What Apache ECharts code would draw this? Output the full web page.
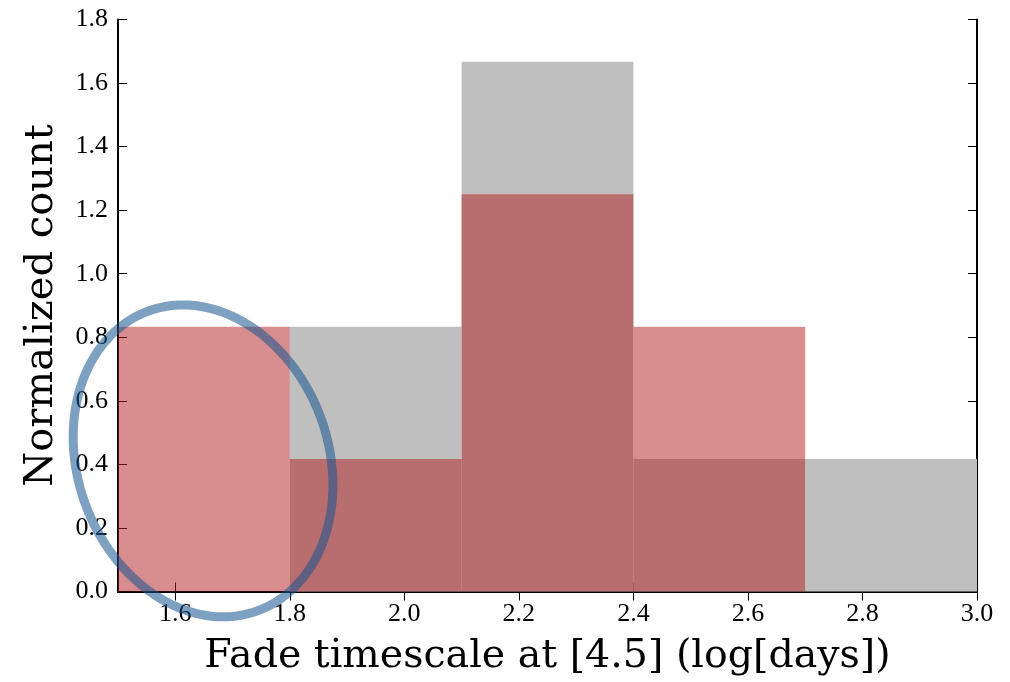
<!DOCTYPE html>
<html>
<head>
<meta charset="utf-8">
<script src="https://cdn.jsdelivr.net/npm/echarts@6/dist/echarts.min.js"></script>
<style>
  html, body { margin: 0; padding: 0; background: #ffffff; }
  #chart { width: 1010px; height: 682px; }
</style>
</head>
<body>
<div id="chart"></div>
<script>
// Histogram bin edges (log[days]) and normalized counts per bin
const binEdges = [1.5, 1.8, 2.1, 2.4, 2.7, 3.0];
const grayCounts = [0, 0.8333, 1.6667, 0.4167, 0.4167];
const redCounts = [0.8333, 0.4167, 1.25, 0.8333, 0];

// Tick positions and labels
const xTicks = [1.6, 1.8, 2.0, 2.2, 2.4, 2.6, 2.8, 3.0];
const yTicks = [0, 0.2, 0.4, 0.6, 0.8, 1.0, 1.2, 1.4, 1.6, 1.8];

// Hand-drawn highlight ring: centre in data units, semi-axes in data units, tilt in degrees
const ringCenter = [1.6485, 0.411];
const ringRadii = [0.219, 0.502];
const ringTilt = -20;

const TICK_FONT = '"Liberation Serif", "DejaVu Serif", serif';
const TITLE_FONT = '"DejaVu Serif", "Liberation Serif", serif';

function binData(counts) {
  const out = [];
  counts.forEach(function (c, i) {
    if (c > 0) out.push([binEdges[i], binEdges[i + 1], c]);
  });
  return out;
}

function barRenderer(fill) {
  return function (params, api) {
    const p0 = api.coord([api.value(0), api.value(2)]);
    const p1 = api.coord([api.value(1), 0]);
    return {
      type: 'rect',
      shape: { x: p0[0], y: p0[1], width: p1[0] - p0[0], height: p1[1] - p0[1] },
      style: { fill: fill }
    };
  };
}

function ringRenderer(params, api) {
  const c = api.coord([api.value(0), api.value(1)]);
  const r = api.size([api.value(2), api.value(3)]);
  const a = r[0], b = r[1];
  const phi = ringTilt * Math.PI / 180;
  const pts = [];
  const n = 180;
  for (let k = 0; k <= n; k++) {
    const t = 2 * Math.PI * k / n;
    const ex = a * Math.cos(t), ey = b * Math.sin(t);
    pts.push([
      c[0] + ex * Math.cos(phi) - ey * Math.sin(phi),
      c[1] + ex * Math.sin(phi) + ey * Math.cos(phi)
    ]);
  }
  return {
    type: 'polygon',
    shape: { points: pts },
    style: { fill: 'none', stroke: 'rgba(25,85,145,0.56)', lineWidth: 9 }
  };
}

const axisLine = { show: true, lineStyle: { color: '#000', width: 2 } };
const tickStyle = { color: '#000', width: 1 };

const chart = echarts.init(document.getElementById('chart'), null, { renderer: 'canvas' });
chart.setOption({
  animation: false,
  backgroundColor: '#ffffff',
  grid: { left: 118, right: 33, top: 19.5, bottom: 90.5, containLabel: false },
  xAxis: [
    {
      type: 'value', position: 'bottom', min: 1.5, max: 3.0,
      name: 'Fade timescale at [4.5] (log[days])',
      nameLocation: 'middle', nameGap: 45,
      nameTextStyle: { fontFamily: TITLE_FONT, fontSize: 39.5, color: '#000' },
      axisLine: axisLine,
      axisTick: { show: true, inside: true, length: 9, lineStyle: tickStyle, customValues: xTicks },
      axisLabel: {
        show: true, margin: 10, color: '#000', fontFamily: TICK_FONT, fontSize: 26,
        customValues: xTicks,
        formatter: function (v) { return v.toFixed(1); }
      },
      splitLine: { show: false }
    },
    {
      type: 'value', position: 'top', min: 1.5, max: 3.0,
      axisLine: axisLine,
      axisTick: { show: true, inside: true, length: 9, lineStyle: tickStyle, customValues: xTicks },
      axisLabel: { show: false },
      splitLine: { show: false }
    }
  ],
  yAxis: [
    {
      type: 'value', position: 'left', min: 0, max: 1.8, interval: 0.2,
      name: 'Normalized count',
      nameLocation: 'middle', nameGap: 56,
      nameTextStyle: { fontFamily: TITLE_FONT, fontSize: 40, color: '#000' },
      axisLine: axisLine,
      axisTick: { show: true, inside: true, length: 9, lineStyle: tickStyle, customValues: yTicks },
      axisLabel: {
        show: true, margin: 10, color: '#000', fontFamily: TICK_FONT, fontSize: 26,
        customValues: yTicks, showMinLabel: true, showMaxLabel: true,
        formatter: function (v) { return v.toFixed(1); }
      },
      splitLine: { show: false }
    },
    {
      type: 'value', position: 'right', min: 0, max: 1.8, interval: 0.2,
      axisLine: axisLine,
      axisTick: { show: true, inside: true, length: 9, lineStyle: tickStyle, customValues: yTicks },
      axisLabel: { show: false },
      splitLine: { show: false }
    }
  ],
  series: [
    {
      type: 'custom', name: 'gray', xAxisIndex: 0, yAxisIndex: 0, z: 1,
      renderItem: barRenderer('#bfbfbf'),
      encode: { x: [0, 1], y: 2 },
      data: binData(grayCounts)
    },
    {
      type: 'custom', name: 'red', xAxisIndex: 0, yAxisIndex: 0, z: 2,
      renderItem: barRenderer('rgba(178,30,30,0.5)'),
      encode: { x: [0, 1], y: 2 },
      data: binData(redCounts)
    },
    {
      type: 'custom', name: 'ring', xAxisIndex: 0, yAxisIndex: 0, z: 10, clip: false,
      renderItem: ringRenderer,
      encode: { x: 0, y: 1 },
      data: [[ringCenter[0], ringCenter[1], ringRadii[0], ringRadii[1]]]
    }
  ]
});
</script>
</body>
</html>
